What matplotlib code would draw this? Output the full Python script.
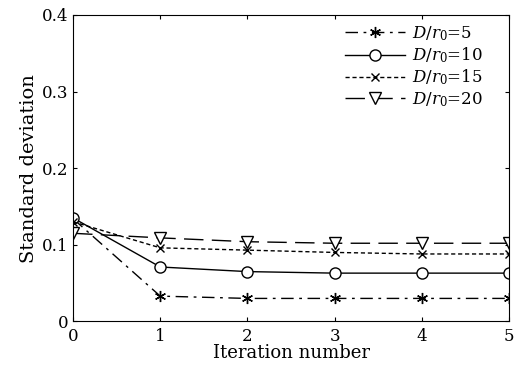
import matplotlib
matplotlib.use("Agg")
import matplotlib.pyplot as plt

plt.rcParams['font.family'] = ['DejaVu Serif']
plt.rcParams['mathtext.fontset'] = 'dejavuserif'

# 迭代次数
iterations = [0, 1, 2, 3, 4, 5]
# 各 D/r0 下的标准差
std_5 = [0.134, 0.033, 0.030, 0.030, 0.030, 0.030]
std_10 = [0.135, 0.071, 0.065, 0.063, 0.063, 0.063]
std_15 = [0.130, 0.096, 0.093, 0.090, 0.088, 0.088]
std_20 = [0.115, 0.109, 0.104, 0.102, 0.102, 0.102]
labels = ['$D/r_0$=5', '$D/r_0$=10', '$D/r_0$=15', '$D/r_0$=20']

fig = plt.figure(figsize=(5.22, 3.72), dpi=100)
ax = fig.add_axes([0.140, 0.136, 0.835, 0.824])

ax.plot(iterations, std_5, color='black', lw=1.0, linestyle=(0, (9, 4, 2, 4)),
        marker=(6, 2, 0), ms=8, mew=1.0, label=labels[0])
ax.plot(iterations, std_10, color='black', lw=1.0, linestyle='-',
        marker='o', ms=8, mfc='white', mew=1.0, label=labels[1])
ax.plot(iterations, std_15, color='black', lw=1.0, linestyle=(0, (3, 2)),
        marker='x', ms=6, mew=1.0, label=labels[2])
ax.plot(iterations, std_20, color='black', lw=1.0, linestyle=(0, (14, 6)),
        marker='v', ms=9, mfc='white', mew=1.0, label=labels[3])

ax.set_xlim(0, 5)
ax.set_ylim(0, 0.4)
ax.set_xticks([0, 1, 2, 3, 4, 5])
ax.set_yticks([0, 0.1, 0.2, 0.3, 0.4])
ax.set_yticklabels(['0', '0.1', '0.2', '0.3', '0.4'])
ax.tick_params(direction='in', top=True, right=True, labelsize=12, length=3)
ax.tick_params(axis='x', pad=5)
ax.set_xlabel('Iteration number', fontsize=13, labelpad=-1)
ax.set_ylabel('Standard deviation', fontsize=14, labelpad=3)

ax.legend(loc='upper right', bbox_to_anchor=(0.97, 1.013), frameon=False,
          fontsize=12, handlelength=3.6, labelspacing=0.15,
          borderaxespad=0.4, handletextpad=0.4)

fig.savefig('out.png', dpi=100)
